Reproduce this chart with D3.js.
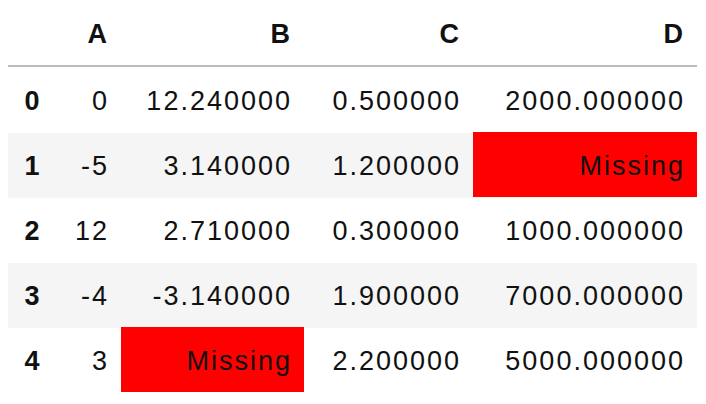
<!DOCTYPE html>
<html><head><meta charset="utf-8">
<script src="https://cdn.jsdelivr.net/npm/d3@7"></script>
<style>body{margin:0;background:#fff}</style>
</head><body>
<script>
const columns = ["A", "B", "C", "D"];
const index = ["0", "1", "2", "3", "4"];
const colA = ["0", "-5", "12", "-4", "3"];
const colB = ["12.240000", "3.140000", "2.710000", "-3.140000", "Missing"];
const colC = ["0.500000", "1.200000", "0.300000", "1.900000", "2.200000"];
const colD = ["2000.000000", "Missing", "1000.000000", "7000.000000", "5000.000000"];
const values = [colA, colB, colC, colD];

const width = 706, height = 404;
const edges = [8, 60, 121, 304, 473, 697];
const headerH = 66, rowH = 65;

const svg = d3.select("body").append("svg")
  .attr("width", width).attr("height", height)
  .style("font-family", "'Liberation Sans', Arial, sans-serif")
  .style("font-size", "27px")
  .style("letter-spacing", "2px");

const y = d3.scaleBand().domain(index).range([headerH + 2, headerH + 2 + rowH * index.length]);

// striped rows
svg.selectAll("rect.stripe").data(index.filter((d, i) => i % 2 === 1)).enter()
  .append("rect")
  .attr("x", edges[0]).attr("width", edges[5] - edges[0])
  .attr("y", d => y(d)).attr("height", y.bandwidth())
  .attr("fill", "#f5f5f5");

// header
svg.selectAll("text.head").data(columns).enter().append("text")
  .attr("x", (d, i) => edges[i + 2] - 12)
  .attr("y", 34).attr("dy", "0.35em")
  .attr("text-anchor", "end").attr("font-weight", "bold").attr("fill", "#111")
  .text(d => d);

svg.append("line").attr("x1", edges[0]).attr("x2", edges[5])
  .attr("y1", headerH).attr("y2", headerH)
  .attr("stroke", "#bdbdbd").attr("stroke-width", 2);

// index
svg.selectAll("text.idx").data(index).enter().append("text")
  .attr("x", 33).attr("y", d => y(d) + y.bandwidth() / 2).attr("dy", "0.35em")
  .attr("text-anchor", "middle").attr("font-weight", "bold").attr("fill", "#111")
  .text(d => d);

// cells
values.forEach((col, ci) => {
  const g = svg.append("g");
  col.forEach((v, ri) => {
    if (v === "Missing") {
      g.append("rect").attr("x", edges[ci + 1]).attr("width", edges[ci + 2] - edges[ci + 1])
        .attr("y", y(index[ri]) - 1).attr("height", y.bandwidth())
        .attr("fill", "#ff0000");
    }
    g.append("text")
      .attr("x", edges[ci + 2] - 12)
      .attr("y", y(index[ri]) + y.bandwidth() / 2).attr("dy", "0.35em")
      .attr("text-anchor", "end").attr("fill", "#111")
      .text(v);
  });
});
</script>
</body></html>
